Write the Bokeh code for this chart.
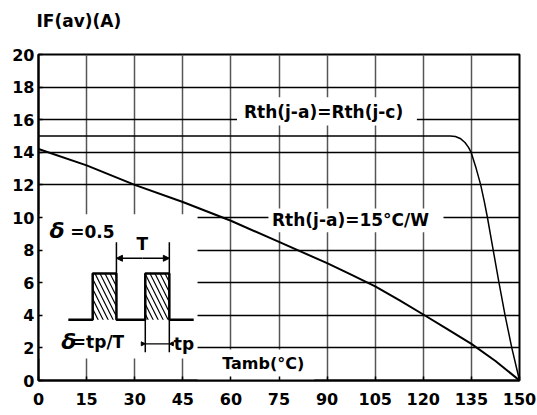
from bokeh.plotting import figure
from bokeh.models import Label, Arrow, NormalHead, Range1d, FixedTicker, Title
from bokeh.embed import file_html
from bokeh.resources import INLINE

# ---- data -------------------------------------------------------------
x_ticks = [0, 15, 30, 45, 60, 75, 90, 105, 120, 135, 150]
y_ticks = [0, 2, 4, 6, 8, 10, 12, 14, 16, 18, 20]

# Rth(j-a) = Rth(j-c)
tamb_c = [0, 128.4, 130, 131.5, 133, 134.1, 134.9, 136.5, 137.9, 139.0, 140.0, 141.8, 143.6, 145.5, 147.6, 150]
if_c = [15, 15, 14.97, 14.85, 14.6, 14.3, 14.0, 13.0, 12, 11, 10, 8, 6, 4, 2, 0]

# Rth(j-a) = 15 °C/W
tamb_a = [0, 15, 30, 45, 60, 75, 90, 97.5, 105, 112.5, 120, 127.5, 135, 142.5, 150]
if_a = [14.2, 13.2, 12.0, 10.95, 9.8, 8.5, 7.2, 6.5, 5.78, 4.93, 4.05, 3.15, 2.25, 1.2, 0]

# inset pulse train (illustration, in chart coordinates)
pulse_x = [9.3, 16.9, 16.9, 24.3, 24.3, 33.3, 33.3, 40.8, 40.8, 48.4]
pulse_y = [3.73, 3.73, 6.56, 6.56, 3.73, 3.73, 6.56, 6.56, 3.73, 3.73]

FONT = "DejaVu Sans"

p = figure(width=537, height=415, output_backend="svg", toolbar_location=None,
           x_range=Range1d(0, 150), y_range=Range1d(0, 20),
           min_border_left=38, min_border_right=18, min_border_top=54, min_border_bottom=35,
           title="IF(av)(A)")
p.background_fill_color = "white"
p.border_fill_color = "white"
p.outline_line_color = "black"
p.outline_line_width = 2

p.title.text_font = FONT
p.title.text_font_size = "17px"
p.title.text_font_style = "bold"
p.title.text_color = "black"
p.title.align = "left"
p.title.offset = -2
p.title.standoff = 0
# invisible spacer between the title and the plot frame
p.add_layout(Title(text=" ", text_font=FONT, text_font_size="17px", standoff=2), "above")

for ax, ticks, standoff in ((p.xaxis, x_ticks, 12), (p.yaxis, y_ticks, 4)):
    ax.ticker = FixedTicker(ticks=ticks)
    ax.major_label_text_font = FONT
    ax.major_label_text_font_style = "bold"
    ax.major_label_text_font_size = "16px"
    ax.major_label_text_color = "black"
    ax.major_label_standoff = standoff
    ax.major_tick_in = 4
    ax.major_tick_out = 0
    ax.minor_tick_in = 0
    ax.minor_tick_out = 0
    ax.major_tick_line_width = 1.5
    ax.axis_line_width = 2
    ax.axis_line_color = "black"

p.xgrid.ticker = FixedTicker(ticks=x_ticks)
p.ygrid.ticker = FixedTicker(ticks=y_ticks)
p.xgrid.grid_line_color = "#555555"
p.xgrid.grid_line_width = 1.5
p.ygrid.grid_line_color = "black"
p.ygrid.grid_line_width = 1.5

# white backgrounds behind texts / inset
p.quad(left=[0.3, 49.6, 61.9, 71.7], right=[49.6, 86, 118.0, 126.3],
       bottom=[1.35, 0.0, 15.64, 9.1], top=[10.2, 1.9, 17.38, 10.55],
       fill_color="white", line_color=None)

# curves
p.line(tamb_c, if_c, line_color="black", line_width=1.5)
p.line(tamb_a, if_a, line_color="black", line_width=2)

# inset pulse diagram
p.quad(left=[16.9, 33.3], right=[24.3, 40.8], bottom=[3.73, 3.73], top=[6.56, 6.56],
       fill_color=None, line_color=None, hatch_pattern="\\", hatch_scale=10,
       hatch_weight=1.2, hatch_color="black")
p.line(pulse_x, pulse_y, line_color="black", line_width=2.5)
p.segment(x0=[24.3, 40.8, 33.3, 40.8], y0=[6.56, 6.56, 3.73, 3.73],
          x1=[24.3, 40.8, 33.3, 40.8], y1=[8.48, 8.48, 1.73, 1.73],
          line_color="black", line_width=1.5)
p.segment(x0=[33.3], y0=[2.25], x1=[40.8], y1=[2.25], line_color="black", line_width=1.3)
for xs, xe, size in ((32.4, 24.3, 6), (32.4, 40.8, 6)):
    p.add_layout(Arrow(x_start=xs, y_start=7.5, x_end=xe, y_end=7.5,
                       end=NormalHead(size=size, fill_color="black", line_color="black"),
                       line_width=1.3, line_color="black"))
for xs, xe in ((32.2, 33.3), (41.9, 40.8)):
    p.add_layout(Arrow(x_start=xs, y_start=2.25, x_end=xe, y_end=2.25,
                       end=NormalHead(size=4, fill_color="black", line_color="black"),
                       line_width=1.3, line_color="black"))


def lab(x, y, text, size="17px", align="center", style="bold", baseline="middle"):
    p.add_layout(Label(x=x, y=y, text=text, text_font=FONT, text_font_size=size,
                       text_font_style=style, text_align=align, text_baseline=baseline,
                       text_color="black"))


lab(88.9, 16.46, "Rth(j-a)=Rth(j-c)")
lab(97.3, 9.86, "Rth(j-a)=15°C/W")
lab(70.1, 1.02, "Tamb(°C)", size="16px")
lab(3.4, 9.23, "δ", size="22px", align="left", style="bold italic")
lab(9.9, 9.1, "=0.5", align="left")
lab(32.4, 8.4, "T")
lab(7.1, 2.4, "δ", size="22px", align="left", style="bold italic")
lab(10.4, 2.35, "=tp/T", align="left")
lab(42.2, 2.25, "tp", align="left")

open("out.html", "w").write(file_html(p, INLINE))
